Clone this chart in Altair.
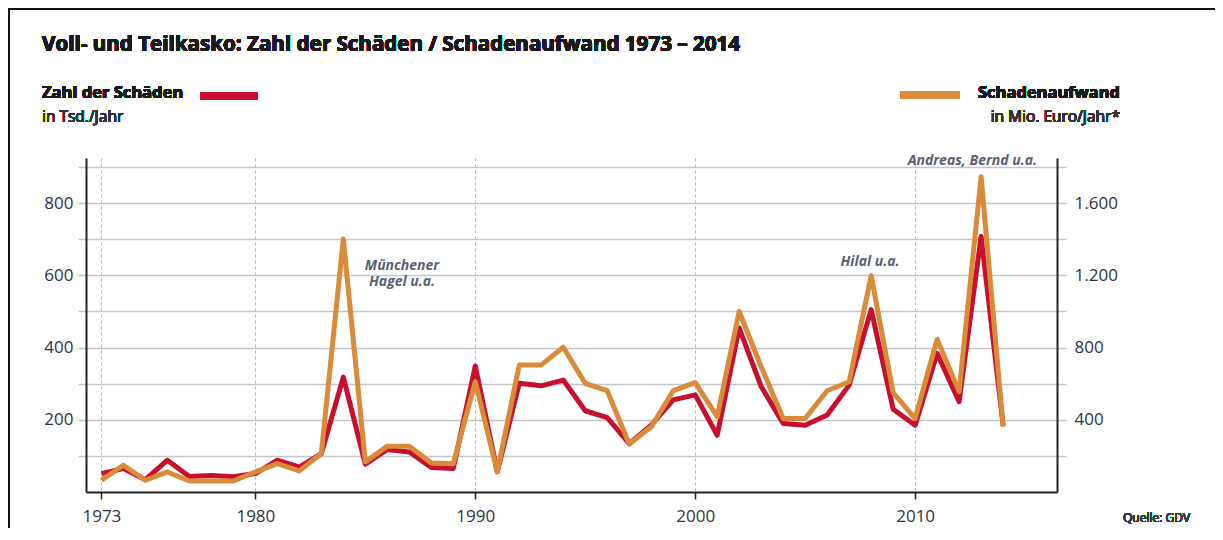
import altair as alt
import pandas as pd

# ---- data ----
years = list(range(1973, 2015))
schaeden = [51, 65, 34, 88, 43, 46, 42, 51, 88, 69,
            106, 318, 77, 118, 111, 68, 65, 349, 56, 301,
            294, 310, 225, 206, 134, 185, 255, 269, 157, 454,
            292, 190, 185, 213, 296, 505, 229, 185, 384, 250,
            708, 185]
aufwand = [65, 148, 65, 111, 61, 61, 61, 111, 157, 117,
           213, 1402, 167, 254, 254, 161, 157, 611, 111, 704,
           704, 802, 602, 561, 265, 361, 561, 606, 417, 1000,
           694, 407, 407, 561, 611, 1198, 550, 407, 846, 556,
           1746, 361]

x_ticks = [1973, 1980, 1990, 2000, 2010]
left_ticks = list(range(100, 1000, 100))
right_ticks = list(range(200, 2000, 200))

ann_text = ["Münchener", "Hagel u.a.", "Hilal u.a.", "Andreas, Bernd u.a."]
ann_year = [1986.67, 1986.67, 2007.95, 2012.6]
ann_val = [627, 581, 638, 917]

title_text = "Voll- und Teilkasko: Zahl der Schäden / Schadenaufwand 1973 – 2014"

df = pd.DataFrame({"Jahr": years, "Schaeden": schaeden, "Aufwand": aufwand})
ann = pd.DataFrame({"Jahr": ann_year, "Wert": ann_val, "Text": ann_text})

RED = "#c8102e"
ORANGE = "#d98b3a"
GRID = "#c3c7cc"
DARK = "#222222"
LABEL = "#2e3346"
FONT = "Open Sans"

W, H = 971, 334

xscale = alt.Scale(domain=[1972.3, 2016.45], nice=False, zero=False)
xaxis = alt.Axis(values=x_ticks, format="d", title=None, grid=True,
                 gridDash=[3, 3], gridColor="#b5b9be", gridWidth=1,
                 tickColor=DARK, tickSize=7, tickWidth=1.5,
                 domainColor=DARK, domainWidth=2,
                 labelFont=FONT, labelFontSize=17, labelColor=LABEL,
                 labelPadding=9)

x_enc = alt.X("Jahr:Q", scale=xscale, axis=xaxis)

red = alt.Chart(df).mark_line(color=RED, strokeWidth=5, strokeJoin="round").encode(
    x=x_enc,
    y=alt.Y("Schaeden:Q",
            scale=alt.Scale(domain=[0, 925], nice=False, zero=True),
            axis=alt.Axis(values=left_ticks, title=None, grid=True,
                          gridColor=GRID, gridWidth=1.5,
                          labelExpr="(datum.value % 200 == 0 && datum.value <= 800) ? datum.label : ''",
                          tickColor=GRID, tickSize=8, tickWidth=1.5,
                          domainColor=DARK, domainWidth=2,
                          labelFont=FONT, labelFontSize=17, labelColor=LABEL,
                          labelPadding=5)),
)

orange = alt.Chart(df).mark_line(color=ORANGE, strokeWidth=5, strokeJoin="round").encode(
    x=x_enc,
    y=alt.Y("Aufwand:Q",
            scale=alt.Scale(domain=[0, 1850], nice=False, zero=True),
            axis=alt.Axis(orient="right", values=right_ticks, title=None, grid=False,
                          labelExpr="(datum.value % 400 == 0 && datum.value <= 1600) ? replace(format(datum.value, ','), ',', '.') : ''",
                          tickColor=GRID, tickSize=9, tickWidth=1.5,
                          domainColor=DARK, domainWidth=2,
                          labelFont=FONT, labelFontSize=17, labelColor=LABEL,
                          labelPadding=8)),
)

annot = alt.Chart(ann).mark_text(font=FONT, fontStyle="italic", fontWeight="bold",
                                 fontSize=14, color="#5b6272", align="center",
                                 baseline="middle").encode(
    x=alt.X("Jahr:Q", scale=xscale, axis=xaxis),
    y=alt.Y("Wert:Q", scale=alt.Scale(domain=[0, 925], nice=False), axis=None),
    text="Text:N",
)

def txt(s, x, y, size=14, weight="normal", align="left", color="#1a1a1a", style="normal"):
    return alt.Chart(df).mark_text(text=s, font=FONT, fontSize=size, fontWeight=weight,
                                   align=align, baseline="middle", color=color,
                                   fontStyle=style).encode(
        x=alt.value(x), y=alt.value(y))

def hbar(x1, x2, y, color, width):
    return alt.Chart(df).mark_rule(color=color, strokeWidth=width).encode(
        x=alt.value(x1), x2=alt.value(x2), y=alt.value(y))

title = txt(title_text, -44, -113, size=20.6, weight="bold")
leg1a = txt("Zahl der Schäden", -44, -65, size=16.5, weight="bold")
leg1b = txt("in Tsd./Jahr", -44, -41, size=15.5, color="#333333")
leg2a = txt("Schadenaufwand", 1034, -65, size=16.5, weight="bold", align="right")
leg2b = txt("in Mio. Euro/Jahr*", 1034, -41, size=15.5, align="right", color="#333333")
source = txt("Quelle: GDV", 1037, 360, size=12, color="#333a4d")

bar_red = hbar(114, 172, -62, RED, 8)
bar_orange = hbar(814, 874, -63, ORANGE, 8)

border_top = alt.Chart(df).mark_rule(color="#111111", strokeWidth=2).encode(
    x=alt.value(-78), x2=alt.value(1129), y=alt.value(-149))
border_left = alt.Chart(df).mark_rule(color="#111111", strokeWidth=2).encode(
    x=alt.value(-77), y=alt.value(-150), y2=alt.value(370))

chart = alt.layer(
    red, orange, annot,
    title, leg1a, leg1b, leg2a, leg2b, source,
    bar_red, bar_orange, border_top, border_left,
).resolve_scale(y="independent").properties(
    width=W, height=H,
    padding={"left": 78, "top": 150, "right": 158, "bottom": 36},
    autosize=alt.AutoSizeParams(type="none"),
    background="white",
).configure_view(stroke=None)

chart.save("out.html", embed_options={"renderer": "svg", "actions": False})
